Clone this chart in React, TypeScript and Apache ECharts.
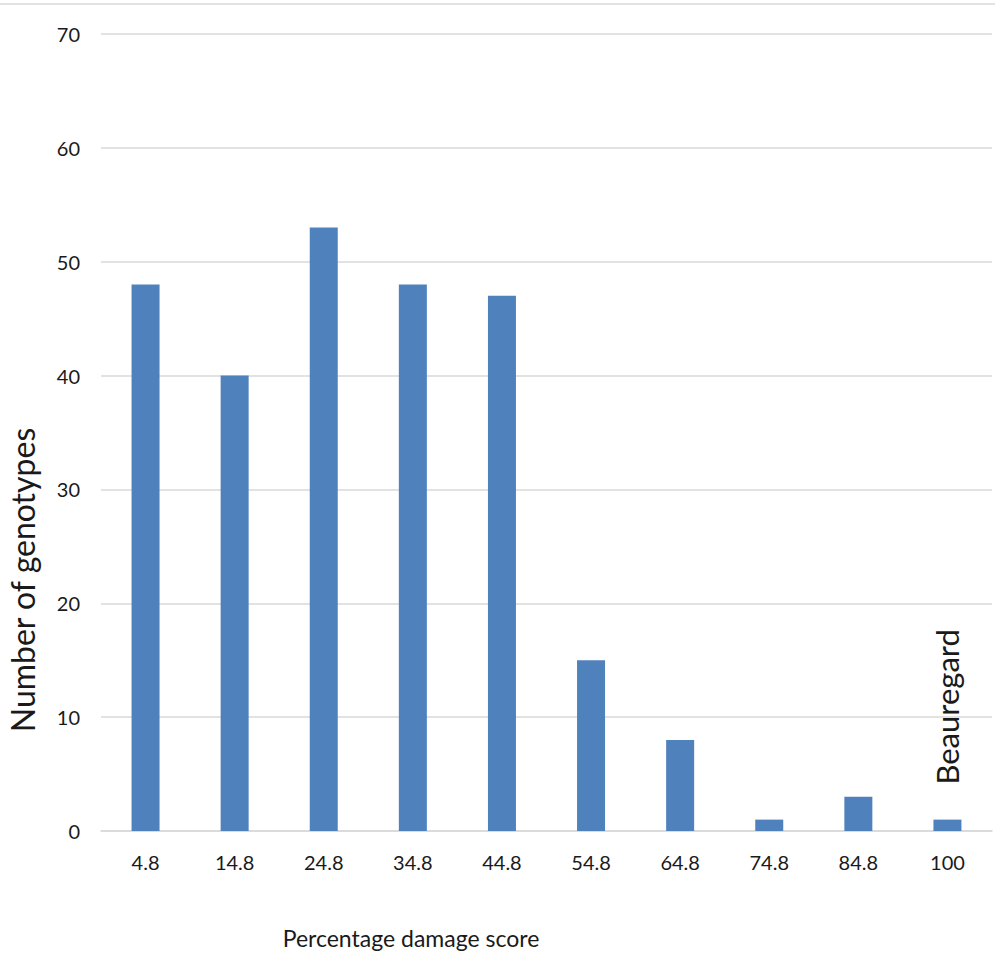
import React, { useEffect, useRef } from "react";
import * as echarts from "echarts";

const categories = ["4.8", "14.8", "24.8", "34.8", "44.8", "54.8", "64.8", "74.8", "84.8", "100"];
const counts = [48, 40, 53, 48, 47, 15, 8, 1, 3, 1];
const yTicks = { min: 0, max: 70, interval: 10 };
const checkLabel = "Beauregard";
const yTitle = "Number of genotypes";
const xTitle = "Percentage damage score";

const FONT = "Lato, 'Noto Sans', sans-serif";

export default function App() {
  const ref = useRef<HTMLDivElement>(null);
  useEffect(() => {
    document.body.style.margin = "0";
    const chart = echarts.init(ref.current!, null, { renderer: "svg" });
    const data = counts.map((v, i) =>
      i === categories.length - 1
        ? {
            value: v,
            label: {
              show: true,
              formatter: checkLabel,
              position: "top",
              rotate: 90,
              align: "left",
              verticalAlign: "middle",
              distance: 35,
              fontSize: 31,
              color: "#1a1a1a",
              fontFamily: FONT,
            },
          }
        : v
    );
    chart.setOption({
      animation: false,
      backgroundColor: "#fff",
      grid: { left: 101, right: 8, top: 34, bottom: 124, containLabel: false },
      xAxis: {
        type: "category",
        data: categories,
        axisLine: { lineStyle: { color: "#d9d9d9", width: 1.5 } },
        axisTick: { show: false },
        axisLabel: { color: "#1a1a1a", fontSize: 20, margin: 21, fontFamily: FONT },
      },
      yAxis: {
        type: "value",
        min: yTicks.min,
        max: yTicks.max,
        interval: yTicks.interval,
        axisLine: { show: false },
        axisTick: { show: false },
        splitLine: { lineStyle: { color: "#d9d9d9", width: 1.5 } },
        axisLabel: { color: "#1a1a1a", fontSize: 20, margin: 21, fontFamily: FONT },
      },
      graphic: [
        {
          type: "line",
          shape: { x1: 0, y1: 4, x2: 995, y2: 4 },
          style: { stroke: "#d9d9d9", lineWidth: 1.5 },
        },
        {
          type: "text",
          x: 22,
          y: 580,
          rotation: Math.PI / 2,
          style: {
            text: yTitle,
            fontSize: 32,
            fill: "#1a1a1a",
            fontFamily: FONT,
            align: "center",
            verticalAlign: "middle",
          },
        },
        {
          type: "text",
          x: 411,
          y: 938,
          style: {
            text: xTitle,
            fontSize: 23,
            fill: "#1a1a1a",
            fontFamily: FONT,
            align: "center",
            verticalAlign: "middle",
          },
        },
      ],
      series: [
        {
          type: "bar",
          data,
          barWidth: 28,
          itemStyle: { color: "#4f81bd" },
        },
      ],
    });
    return () => chart.dispose();
  }, []);
  return <div ref={ref} style={{ width: 1000, height: 955 }} />;
}
